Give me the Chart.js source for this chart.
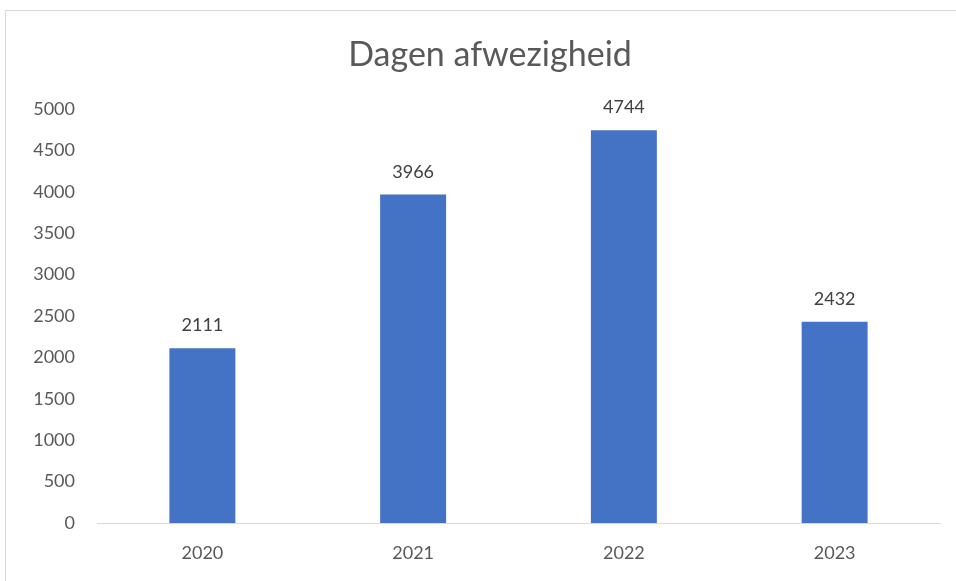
<!DOCTYPE html>
<html>
<head>
<meta charset="utf-8">
<script src="https://cdn.jsdelivr.net/npm/chart.js@4/dist/chart.umd.min.js"></script>
<style>
html,body{margin:0;padding:0;background:#fff;overflow:hidden;width:956px;height:581px;}
#frame{position:absolute;left:5px;top:10px;width:1000px;height:700px;border:1px solid #d9d9d9;box-sizing:border-box;}
#wrap{position:absolute;left:0;top:0;width:956px;height:581px;overflow:hidden;}
</style>
</head>
<body>
<div id="frame"></div>
<div id="wrap"><canvas id="c" width="956" height="581"></canvas></div>
<script>
const categories = ["2020", "2021", "2022", "2023"];
const values = [2111, 3966, 4744, 2432];
const yTicks = [0, 500, 1000, 1500, 2000, 2500, 3000, 3500, 4000, 4500, 5000];
const titleText = "Dagen afwezigheid";

const FONT = "Lato, 'Open Sans', sans-serif";

const valueLabels = {
  id: 'valueLabels',
  afterDatasetsDraw(chart) {
    const ctx = chart.ctx;
    const meta = chart.getDatasetMeta(0);
    ctx.save();
    ctx.font = "18px " + FONT;
    ctx.fillStyle = "#404040";
    ctx.textAlign = "center";
    ctx.textBaseline = "alphabetic";
    meta.data.forEach((bar, i) => {
      ctx.fillText(String(values[i]), bar.x, bar.y - 17);
    });
    ctx.restore();
  }
};

// Chart title centred over the whole chart frame (which extends past the right edge)
const frameTitle = {
  id: 'frameTitle',
  afterDraw(chart) {
    const ctx = chart.ctx;
    ctx.save();
    ctx.font = "34px " + FONT;
    ctx.fillStyle = "#595959";
    ctx.textAlign = "center";
    ctx.textBaseline = "middle";
    ctx.fillText(titleText, 490, 55);
    ctx.restore();
  }
};

new Chart(document.getElementById('c'), {
  type: 'bar',
  data: {
    labels: categories,
    datasets: [{
      data: values,
      backgroundColor: '#4472C4',
      borderWidth: 0,
      categoryPercentage: 1.0,
      barPercentage: 0.313
    }]
  },
  options: {
    responsive: false,
    animation: false,
    layout: { padding: { left: 0, right: 16, top: 109, bottom: 0 } },
    plugins: {
      legend: { display: false },
      tooltip: { enabled: false },
      title: { display: false }
    },
    scales: {
      x: {
        grid: { display: false, drawTicks: false },
        border: { display: true, color: '#d9d9d9', width: 1 },
        ticks: { color: '#595959', font: { family: FONT, size: 18 }, padding: 19 },
        afterFit(scale) { scale.height = 58; }
      },
      y: {
        min: 0,
        max: 5000,
        afterBuildTicks(scale) { scale.ticks = yTicks.map(v => ({ value: v })); },
        grid: { display: false, drawTicks: false },
        border: { display: false },
        ticks: { color: '#595959', font: { family: FONT, size: 18 }, padding: 22, callback: (v) => String(v) },
        afterFit(scale) { scale.width = 97; }
      }
    }
  },
  plugins: [valueLabels, frameTitle]
});
</script>
</body>
</html>
